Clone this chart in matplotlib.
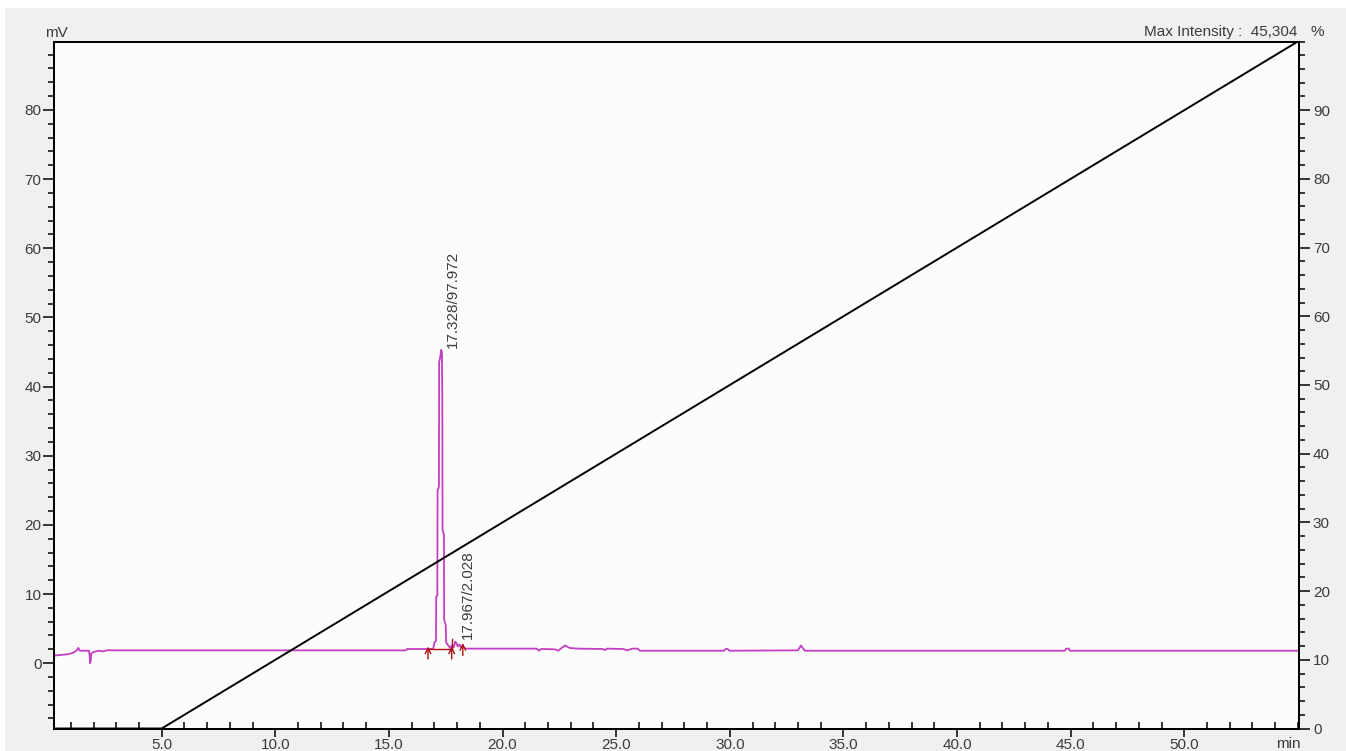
import matplotlib

matplotlib.use("Agg")
import matplotlib.pyplot as plt
from matplotlib.patches import Rectangle
from matplotlib.ticker import FixedLocator, MultipleLocator

plt.rcParams["font.family"] = ["Liberation Sans", "DejaVu Sans"]

# detector trace (min, mV)
trace_time = [
    0.26, 0.6, 0.9, 1.1, 1.25, 1.33, 1.4, 1.6, 1.8, 1.83, 1.85, 1.87, 1.9, 2.0, 2.2, 2.4, 2.68,
    2.8, 15.75, 15.8, 16.95, 17.0, 17.07, 17.08, 17.13, 17.14, 17.2, 17.21, 17.27, 17.3,
    17.33, 17.35, 17.36, 17.42, 17.43, 17.5, 17.52, 17.6, 17.7, 17.78, 17.85, 17.92, 17.97,
    18.03, 18.1, 18.17, 18.25, 18.35, 21.5, 21.6, 21.7, 22.3, 22.45, 22.6, 22.75, 22.95,
    23.3, 24.4, 24.5, 24.6, 25.3, 25.5, 25.7, 25.95, 26.05, 29.75, 29.82, 29.9, 29.98,
    33.0, 33.13, 33.3, 44.75, 44.8, 44.92, 44.97, 55.0,
]
trace_mv = [
    1.1, 1.2, 1.3, 1.5, 1.8, 2.2, 1.8, 1.8, 1.8, 1.0, 0.0, 0.2, 1.4, 1.6, 1.8, 1.7, 1.9,
    1.85, 1.85, 2.05, 2.05, 3.0, 3.2, 9.6, 9.8, 25.0, 25.5, 43.5, 44.5, 45.304,
    45.0, 38.0, 19.3, 18.5, 6.3, 5.5, 3.0, 2.6, 2.2, 2.6, 2.3, 3.1, 2.9,
    2.4, 2.7, 2.3, 2.5, 2.1, 2.1, 1.8, 2.05, 2.0, 1.8, 2.2, 2.55, 2.2,
    2.1, 2.05, 1.9, 2.1, 2.05, 1.85, 2.1, 2.1, 1.8, 1.8, 2.05, 2.05, 1.8,
    1.85, 2.55, 1.8, 1.8, 2.1, 2.1, 1.8, 1.8,
]

# pump gradient (min, %B)
gradient_time = [0.26, 5.0, 55.0]
gradient_pct = [0.0, 0.0, 100.0]

# integrated peaks: retention time / area %, label anchor height
peak_rt = [17.328, 17.967]
peak_area = [97.972, 2.028]
peak_top = [45.304, 3.3]

# integration marks: start/end times and baseline level
mark_time = [16.72, 17.76, 18.25]
mark_level = [2.1, 2.1, 2.6]
max_intensity = "45,304"

text_color = "#3c3c3c"
trace_color = "#c23ec2"
mark_color = "#b01010"
fs = 11

fig = plt.figure(figsize=(13.46, 7.51), dpi=100)
fig.patch.set_facecolor("white")
fig.patches.append(Rectangle((5 / 1346, 0), 1, 1 - 8 / 751, transform=fig.transFigure,
                             facecolor="#f0f0f0", edgecolor="none", zorder=-10))

ax = fig.add_axes([54 / 1346, 1 - 728.5 / 751, 1245 / 1346, 687 / 751])
ax.set_facecolor("#fcfcfc")
ax2 = ax.twinx()

ax.plot(trace_time, trace_mv, color=trace_color, lw=1.3, zorder=3)
ax2.plot(gradient_time, gradient_pct, color="black", lw=1.4, zorder=2)

# integration baseline and start/stop arrows
ax.plot([mark_time[0], mark_time[1]], [mark_level[0], mark_level[1]], color=mark_color, lw=1.0, zorder=4)
for t, lvl in zip(mark_time, mark_level):
    ax.annotate("", xy=(t, lvl + 0.3), xytext=(t, lvl - 1.5),
                arrowprops=dict(arrowstyle="->", color=mark_color, lw=1.0, mutation_scale=10,
                                shrinkA=0, shrinkB=0), zorder=4)
ax.plot([mark_time[1], mark_time[1]], [mark_level[1], mark_level[1] + 1.4], color=mark_color, lw=1.0, zorder=4)

for rt, area, top in zip(peak_rt, peak_area, peak_top):
    ax.annotate(f"{rt:.3f}/{area:.3f}", xy=(rt, top), xytext=(3, 1), textcoords="offset points",
                rotation=90, ha="left", va="bottom", fontsize=fs, color=text_color, zorder=5)

ax.set_xlim(0.26, 55.05)
ax.set_ylim(-9.45, 89.9)
ax2.set_ylim(0, 100)

ax.xaxis.set_major_locator(FixedLocator(list(range(5, 55, 5))))
ax.xaxis.set_minor_locator(MultipleLocator(1))
ax.set_xticklabels([f"{v:.1f}" for v in range(5, 55, 5)])
ax.yaxis.set_major_locator(FixedLocator(list(range(0, 90, 10))))
ax.yaxis.set_minor_locator(MultipleLocator(2))
ax2.yaxis.set_major_locator(FixedLocator(list(range(0, 100, 10))))
ax2.yaxis.set_minor_locator(MultipleLocator(2))

ax.tick_params(axis="x", which="major", direction="out", length=6, width=1.1, pad=1,
               labelsize=fs, labelcolor=text_color)
ax.tick_params(axis="x", which="minor", direction="in", length=5, width=1.1)
ax.tick_params(axis="y", which="major", direction="out", length=8, width=1.1, pad=1,
               labelsize=fs, labelcolor=text_color)
ax.tick_params(axis="y", which="minor", direction="out", length=4, width=1.1)
ax2.tick_params(axis="y", which="major", direction="out", length=8, width=1.1, pad=2,
                labelsize=fs, labelcolor=text_color)
ax2.tick_params(axis="y", which="minor", direction="out", length=4, width=1.1)

for a in (ax, ax2):
    for s in a.spines.values():
        s.set_linewidth(1.4)
        s.set_color("black")

fig.text(56 / 1346, 1 - 33 / 751, "mV", ha="center", va="center", fontsize=fs, color=text_color)
fig.text(1297 / 1346, 1 - 32 / 751, f"Max Intensity :  {max_intensity}", ha="right", va="center",
         fontsize=fs, color=text_color)
fig.text(1317 / 1346, 1 - 32 / 751, "%", ha="center", va="center", fontsize=fs, color=text_color)
fig.text(1288 / 1346, 1 - 744 / 751, "min", ha="center", va="center", fontsize=fs, color=text_color)

fig.savefig("out.png", dpi=100, facecolor=fig.get_facecolor())
